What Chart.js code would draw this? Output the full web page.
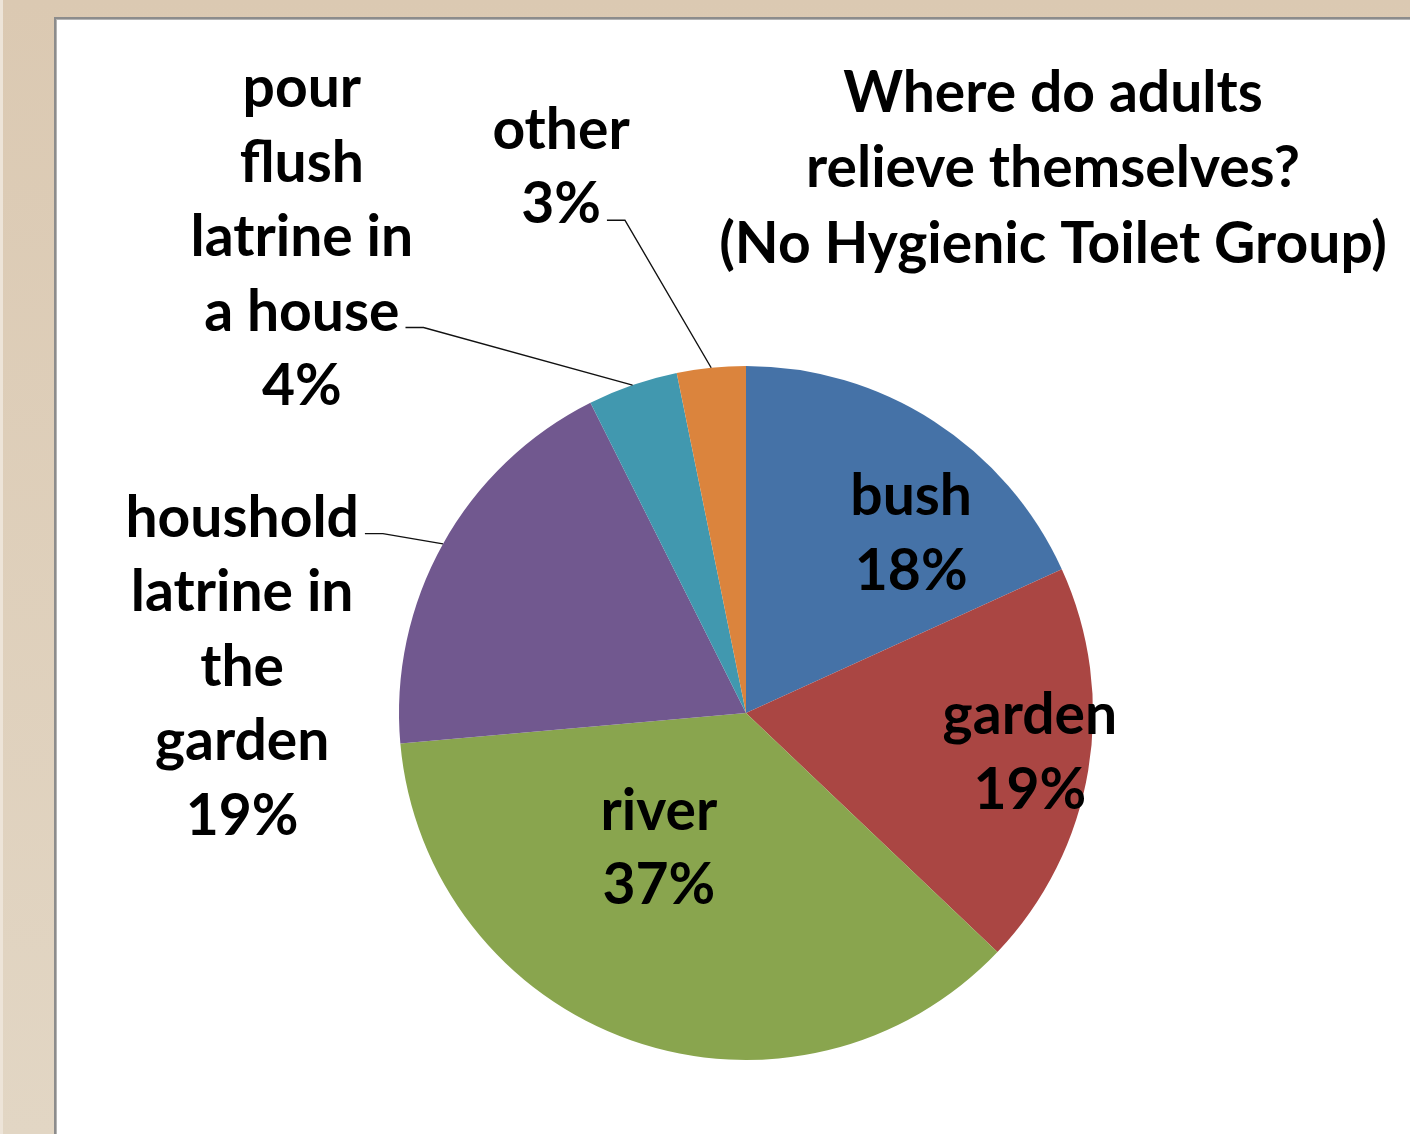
<!DOCTYPE html>
<html><head><meta charset="utf-8">
<script src="https://cdn.jsdelivr.net/npm/chart.js@4"></script>
<style>html,body{margin:0;padding:0;overflow:hidden;background:#fff}#wrap{width:1410px;height:1134px;position:relative}canvas{display:block}</style>
</head><body><div id="wrap"><canvas id="c" width="1410" height="1134"></canvas></div>
<script>
const categories = ['bush', 'garden', 'river', 'houshold latrine in the garden', 'pour flush latrine in a house', 'other'];
const values = [18.2, 18.9, 36.5, 19.0, 4.2, 3.2];
const pctLabels = ['18%', '19%', '37%', '19%', '4%', '3%'];
const colors = ['#4572A7', '#AA4643', '#89A54E', '#71588F', '#4198AF', '#DB843D'];
const titleLines = ['Where do adults', 'relieve themselves?', '(No Hygienic Toilet Group)'];
const labelLines = [['bush'], ['garden'], ['river'], ['houshold', 'latrine in', 'the', 'garden'], ['pour', 'flush', 'latrine in', 'a house'], ['other']];

// label placement (in units of pie radius, relative to pie centre)
const labelPlace = [
  { dx: 0.476, dy: -0.522 },
  { dx: 0.818, dy: 0.110 },
  { dx: -0.251, dy: 0.384 },
  { dx: -1.452, dy: -0.138, leader: 0 },
  { dx: -1.28, dy: -1.376, leader: 3 },
  { dx: -0.533, dy: -1.578, leader: 1 }
];
const FONT_SIZE = 57;
const FONT = 'bold ' + FONT_SIZE + 'px Lato, "Open Sans", sans-serif';
const LINE_H = 74.5;

const bgPlugin = {
  id: 'bg',
  beforeDraw(chart) {
    const ctx = chart.ctx, W = chart.width, H = chart.height;
    ctx.save();
    const g = ctx.createLinearGradient(0, 0, 0, H);
    g.addColorStop(0, '#DBC9B2');
    g.addColorStop(1, '#E2D6C4');
    ctx.fillStyle = g;
    ctx.fillRect(0, 0, W, H);
    ctx.fillStyle = '#EDE4D8';
    ctx.fillRect(0, 0, 3, H);
    ctx.fillStyle = '#8C8C8C';
    ctx.fillRect(54, 17, W - 54, H - 17);
    ctx.fillStyle = '#B4B4B4';
    ctx.fillRect(56, 19, W - 56, H - 19);
    ctx.fillStyle = '#FFFFFF';
    ctx.fillRect(57, 20, W - 57, H - 20);
    ctx.restore();
  }
};

const labelPlugin = {
  id: 'labels',
  afterDatasetsDraw(chart) {
    const ctx = chart.ctx;
    const meta = chart.getDatasetMeta(0);
    ctx.save();
    ctx.font = FONT;
    ctx.fillStyle = '#000';
    ctx.textAlign = 'center';
    ctx.textBaseline = 'alphabetic';
    const capH = FONT_SIZE * 0.72;
    const tx = 1053, ty0 = 91;
    titleLines.forEach((t, i) => ctx.fillText(t, tx, ty0 + i * 75.5 + capH / 2));
    meta.data.forEach((arc, i) => {
      const p = arc.getProps(['x', 'y', 'outerRadius', 'startAngle', 'endAngle'], true);
      const R = p.outerRadius;
      const pl = labelPlace[i];
      const cx = p.x + pl.dx * R, cy = p.y + pl.dy * R;
      const lines = labelLines[i].concat([pctLabels[i]]);
      const n = lines.length;
      lines.forEach((t, k) => {
        const ly = cy - (n - 1) * LINE_H / 2 + k * LINE_H;
        ctx.fillText(t, cx, ly + capH / 2);
      });
      if (pl.leader !== undefined) {
        const k = pl.leader;
        const ly = cy - (n - 1) * LINE_H / 2 + k * LINE_H + capH / 2 - 3;
        const w = ctx.measureText(lines[k]).width;
        const sx = cx + w / 2 + 6;
        const mid = (p.startAngle + p.endAngle) / 2;
        const ex = p.x + Math.cos(mid) * R, ey = p.y + Math.sin(mid) * R;
        ctx.beginPath();
        ctx.strokeStyle = '#111';
        ctx.lineWidth = 1.4;
        ctx.moveTo(sx, ly);
        ctx.lineTo(sx + 18, ly);
        ctx.lineTo(ex, ey);
        ctx.stroke();
      }
    });
    ctx.restore();
  }
};

new Chart(document.getElementById('c'), {
  type: 'pie',
  data: {
    labels: categories,
    datasets: [{ data: values, backgroundColor: colors, borderWidth: 0 }]
  },
  options: {
    responsive: false,
    animation: false,
    layout: { padding: { left: 399, right: 317, top: 366, bottom: 74 } },
    plugins: { legend: { display: false }, tooltip: { enabled: false }, title: { display: false } }
  },
  plugins: [bgPlugin, labelPlugin]
});
</script>
</body></html>
